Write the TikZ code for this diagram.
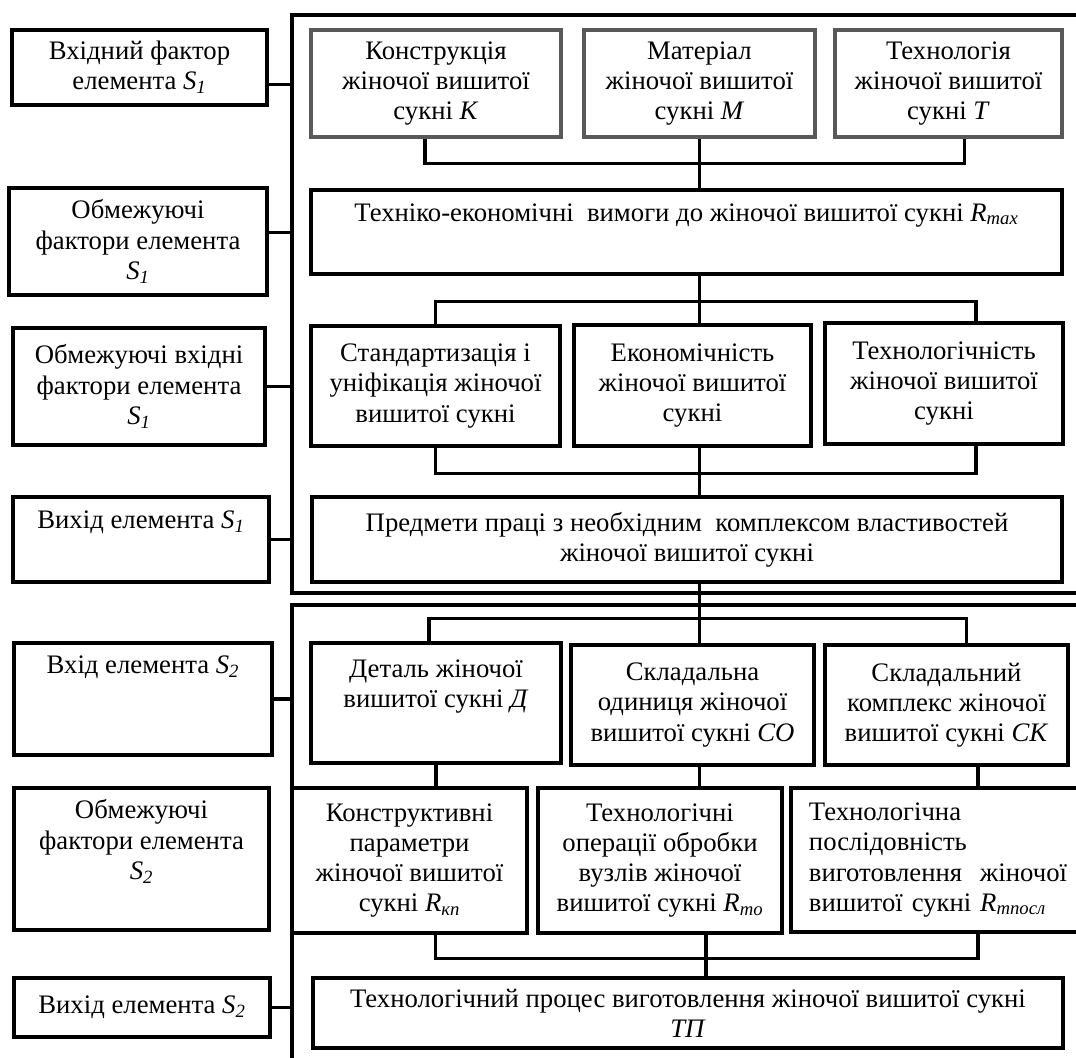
\documentclass[tikz,border=0pt]{standalone}
\usepackage{fontspec}
\setmainfont{Liberation Serif}
\usetikzlibrary{calc}

\newcommand{\vn}[2]{\textit{#1}\textsubscript{\textit{#2}}}

\begin{document}
\begin{tikzpicture}[x=0.025cm, y=-0.025cm]

    % Define some common styles
    \tikzset{
        blk/.style={draw, line width=2.3pt, inner sep=0pt, align=center,
            font=\fontsize{19}{21.4}\selectfont},
        grayblk/.style={blk, draw=black!65},
        sz/.style 2 args={minimum width=#1*0.025cm, minimum height=#2*0.025cm},
        conn/.style={line width=2.3pt},
        framing/.style={line width=2.3pt}
    }

    % Fix the page size
    \useasboundingbox (0,0) rectangle (1076,1057);
    \clip (0,0) rectangle (1076,1057);

    % Frames of the elements S1 and S2
    \draw[framing] (1090,15) -| (292,593) -- (1090,593);
    \draw[framing] (1090,605) -| (292,1070);
    \coordinate (fA) at (292,15);
    \coordinate (fB) at (292,605);

    % Left column
    \node[blk, sz={255}{75}] (L1) at (139.5,67.5) {Вхідний фактор\\елемента \vn{S}{1}};
    \node[blk, sz={258}{107}] (L2) at (138,241.5) {Обмежуючі\\фактори елемента\\\vn{S}{1}};
    \node[blk, sz={252}{117}] (L3) at (139,386.5) {Обмежуючі вхідні\\фактори елемента\\\vn{S}{1}};
    \node[blk, sz={256}{85}] (L4) at (141,539.5) {Вихід елемента \vn{S}{1}\\\strut};
    \node[blk, sz={258}{112}] (L5) at (143,699) {Вхід елемента \vn{S}{2}\\\strut\\\strut};
    \node[blk, sz={255}{142}] (L6) at (141.5,859) {Обмежуючі\\фактори елемента\\\vn{S}{2}\\\strut};
    \node[blk, sz={256}{59}] (L7) at (142,1007.5) {Вихід елемента \vn{S}{2}};

    % Left column to the frames
    \coordinate (c1) at ($(L1.east)+(0,17)$);
    \coordinate (c2) at ($(L2.east)+(0,-9)$);
    \draw[conn] (c1) -- (c1 -| fA);
    \draw[conn] (c2) -- (c2 -| fA);
    \draw[conn] (L3.east) -- (L3.east -| fA);
    \draw[conn] (L4.east) -- (L4.east -| fA);
    \draw[conn] (L5.east) -- (L5.east -| fB);
    \draw[conn] (L7.east) -- (L7.east -| fB);

    % Element S1
    \node[grayblk, sz={250}{107}] (K) at (436,83.5) {Конструкція\\жіночої вишитої\\сукні \textit{К}};
    \node[grayblk, sz={231}{107}] (M) at (699.5,83.5) {Матеріал\\жіночої вишитої\\сукні \textit{М}};
    \node[grayblk, sz={227}{107}] (T) at (948.5,83.5) {Технологія\\жіночої вишитої\\сукні \textit{Т}};
    \node[blk, sz={751}{84}] (Rmax) at (686.5,232) {Техніко-економічні \ вимоги до жіночої вишитої сукні \vn{R}{max}\\\strut};
    \node[blk, sz={249}{120}] (Std) at (435.5,386) {Стандартизація і\\уніфікація жіночої\\вишитої сукні};
    \node[blk, sz={237}{121}] (Econ) at (692.5,385.5) {Економічність\\жіночої вишитої\\сукні};
    \node[blk, sz={238}{121}] (Tech) at (944,383.5) {Технологічність\\жіночої вишитої\\сукні};
    \node[blk, sz={750}{85}] (Pred) at (687,539.5) {Предмети праці з необхідним \ комплексом властивостей\\жіночої вишитої сукні};

    % Element S2
    \node[blk, sz={250}{120}] (D) at (436,703) {Деталь жіночої\\вишитої сукні \textit{Д}\\\strut};
    \node[blk, sz={243}{120}] (CO) at (692.5,705) {Складальна\\одиниця жіночої\\вишитої сукні \textit{СО}};
    \node[blk, sz={243}{120}] (CK) at (946.5,705) {Складальний\\комплекс жіночої\\вишитої сукні \textit{СК}};
    \node[blk, sz={235}{145}] (Constr) at (409.5,860.5) {Конструктивні\\параметри\\жіночої вишитої\\сукні \vn{R}{кп}};
    \node[blk, sz={244}{145}] (TOps) at (660,860.5) {Технологічні\\операції обробки\\вузлів жіночої\\вишитої сукні \vn{R}{то}};
    \node[blk, sz={374}{144}, align=left, text width=8.45cm] (TSeq) at (978,860) {Технологічна\\послідовність\\виготовлення \ жіночої\\вишитої сукні \vn{R}{тпосл}};
    \node[blk, sz={750}{70}] (TP) at (688,1013) {Технологічний процес виготовлення жіночої вишитої сукні\\\textit{ТП}};

    % Inputs to requirements
    \coordinate (jA) at ($(M.south)+(0,25)$);
    \coordinate (kA) at ($(K.south)+(-11,0)$);
    \coordinate (tA) at ($(T.south)+(16,0)$);
    \draw[conn] (kA) |- (jA) -| (tA);
    \draw[conn] (M.south) -- (M.south |- Rmax.north);

    % Requirements to properties
    \coordinate (rB) at (M.south |- Rmax.south);
    \coordinate (jB) at ($(rB)+(0,26)$);
    \coordinate (tB) at ($(Tech.north)+(32,0)$);
    \draw[conn] (rB) -- (jB);
    \draw[conn] (Std.north) |- (jB) -| (tB);
    \draw[conn] (jB) -- (jB |- Econ.north);

    % Properties to objects of labour
    \coordinate (sC) at ($(Std.south)+(0,26)$);
    \coordinate (tC) at ($(Tech.south)+(32,0)$);
    \draw[conn] (Std.south) -- (sC) -| (tC);
    \draw[conn] (jB |- Econ.south) -- (jB |- Pred.north);

    % Objects of labour to the parts of S2
    \coordinate (pD) at (jB |- Pred.south);
    \coordinate (jD) at ($(pD)+(0,35)$);
    \coordinate (dD) at ($(D.north)+(-7,0)$);
    \coordinate (kD) at ($(CK.north)+(20,0)$);
    \draw[conn] (pD) -- (jD);
    \draw[conn] (dD) |- (jD) -| (kD);
    \draw[conn] (jD) -- (jD |- CO.north);

    % Parts to their parameters
    \draw[conn] (D.south) -- (D.south |- Constr.north);
    \draw[conn] (jD |- CO.south) -- (jD |- TOps.north);
    \draw[conn] (TSeq.north |- CK.south) -- (TSeq.north);

    % Parameters to the process
    \coordinate (cE) at ($(Constr.south)+(26,0)$);
    \coordinate (oE) at ($(TOps.south)+(46,0)$);
    \coordinate (jE) at ($(oE)+(0,24)$);
    \draw[conn] (cE) |- (jE) -| (TSeq.south);
    \draw[conn] (oE) -- (oE |- TP.north);

\end{tikzpicture}
\end{document}
